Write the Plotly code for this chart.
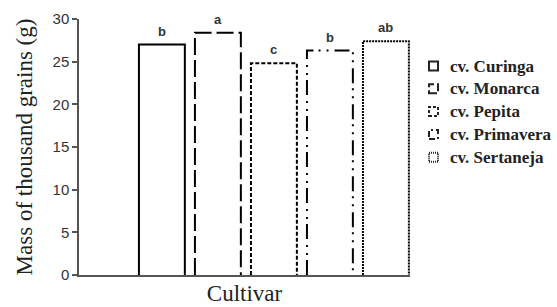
import plotly.graph_objects as go

cultivars = ["cv. Curinga", "cv. Monarca", "cv. Pepita", "cv. Primavera", "cv. Sertaneja"]
mass = [27.0, 28.4, 24.8, 26.3, 27.4]
letters = ["b", "a", "c", "b", "ab"]
dashes = ["solid", "17px,5px", "4px,2px", "15px,5px,2px,6px,2px,6px", "2px,1px"]
icon_dashes = ["solid", "8px,3px", "3px,2px", "6px,3px,2px,3px", "1px,1px"]

bar_w = 0.82
L, R, T, B, W, H = 79, 147, 19, 32, 557, 307
pw, ph = W - L - R, H - T - B

fig = go.Figure()
idx = list(range(len(cultivars)))
fig.add_trace(go.Bar(x=idx, y=mass, width=bar_w, marker=dict(color="white", line=dict(width=0)),
                     showlegend=False, hoverinfo="x+y"))

for i, (name, v, d) in enumerate(zip(cultivars, mass, dashes)):
    xs = [i - bar_w / 2, i - bar_w / 2, i + bar_w / 2, i + bar_w / 2]
    ys = [0, v, v, 0]
    fig.add_trace(go.Scatter(x=xs, y=ys, mode="lines", name=name,
                             line=dict(color="black", width=2, dash=d),
                             showlegend=False, hoverinfo="name"))

for i, (v, t) in enumerate(zip(mass, letters)):
    fig.add_annotation(x=i, y=v, text=t, showarrow=False, yanchor="bottom", yshift=4,
                       font=dict(family="Liberation Sans", size=13, color="#333", weight="bold"))

# legend drawn as icons + text in paper coordinates
def px2x(p):
    return (p - L) / pw

def py2y(p):
    return (H - B - p) / ph

for k, (name, d) in enumerate(zip(cultivars, icon_dashes)):
    yc = 66 + 22.8 * k
    fig.add_shape(type="rect", xref="paper", yref="paper",
                  x0=px2x(429), x1=px2x(438), y0=py2y(yc + 4.5), y1=py2y(yc - 4.5),
                  line=dict(color="#222", width=2, dash=d), fillcolor="white")
    fig.add_annotation(xref="paper", yref="paper", x=px2x(448), y=py2y(yc), text=name,
                       showarrow=False, xanchor="left", yanchor="middle",
                       font=dict(family="Liberation Serif", size=17, color="#222", weight="bold"))

fig.update_layout(
    width=W, height=H,
    margin=dict(l=L, r=R, t=T, b=B),
    paper_bgcolor="white", plot_bgcolor="white",
    showlegend=False,
    xaxis=dict(range=[-1.48, 4.43], showticklabels=False, ticks="", showgrid=False,
               zeroline=False, showline=True, linecolor="#555", linewidth=1.5, automargin=False,
               title=dict(text="Cultivar", font=dict(family="Liberation Serif", size=23, color="#222"),
                          standoff=9)),
    yaxis=dict(range=[0, 30], tickvals=[0, 5, 10, 15, 20, 25, 30], ticks="outside", ticklen=5,
               tickcolor="#555", tickwidth=1.5, showgrid=False, zeroline=False, automargin=False,
               showline=True, linecolor="#555", linewidth=1.5,
               tickfont=dict(family="Liberation Sans", size=15, color="#333"),
               title=dict(text="Mass of thousand grains (g)",
                          font=dict(family="Liberation Serif", size=23, color="#222"), standoff=14)),
)

fig.write_html("out.html", config={"displayModeBar": False},
               post_script="document.body.style.margin='0';")
